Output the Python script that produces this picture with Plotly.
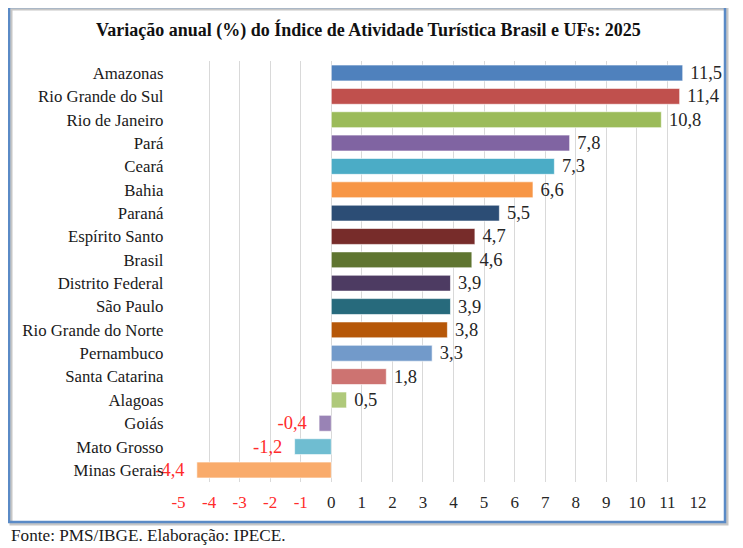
import plotly.graph_objects as go

OFF = 8  # page body margin
W, H = 743 - OFF, 548 - OFF

categories = ["Amazonas", "Rio Grande do Sul", "Rio de Janeiro", "Pará", "Ceará", "Bahia",
              "Paraná", "Espírito Santo", "Brasil", "Distrito Federal", "São Paulo",
              "Rio Grande do Norte", "Pernambuco", "Santa Catarina", "Alagoas", "Goiás",
              "Mato Grosso", "Minas Gerais"]
values = [11.5, 11.4, 10.8, 7.8, 7.3, 6.6, 5.5, 4.7, 4.6, 3.9, 3.9, 3.8, 3.3, 1.8, 0.5, -0.4, -1.2, -4.4]
bar_colors = ["#4F81BD", "#C0504D", "#9BBB59", "#8064A2", "#4BACC6", "#F79646",
              "#2C4D75", "#772C2A", "#5F7530", "#4D3B62", "#276A7C", "#B65708",
              "#729ACA", "#CD7371", "#AFC97A", "#9983B5", "#6FBDD1", "#F9AB6B"]
tick_vals = list(range(-5, 13))

title = "Variação anual (%) do Índice de Atividade Turística Brasil e UFs: 2025"
source = "Fonte: PMS/IBGE. Elaboração: IPECE."

FONT = "'Liberation Serif', 'DejaVu Serif', 'Times New Roman', Times, serif"
NEG = "#FF2B2B"
POS = "#262626"
NB = "\u00a0"

labels = []
for v in values:
    s = f"{v:.1f}".replace(".", ",")
    labels.append(s + NB * 2 if v < 0 else NB + s)
label_colors = [NEG if v < 0 else POS for v in values]
tick_text = [f'<span style="color:{NEG if t < 0 else POS}">{t}</span>' for t in tick_vals]

fig = go.Figure(go.Bar(
    x=values, y=categories, orientation="h",
    marker=dict(color=bar_colors, line=dict(color="rgba(255,255,255,0.6)", width=1)),
    text=labels, textposition="outside", cliponaxis=False, constraintext="none",
    textfont=dict(family=FONT, size=18.5, color=label_colors),
    width=0.68,
))

def px_x(p):
    return (p - OFF) / W

def px_y(p):
    return 1 - (p - OFF) / H

fig.update_layout(
    width=W, height=H,
    margin=dict(l=0, r=0, t=0, b=0),
    paper_bgcolor="white", plot_bgcolor="white",
    showlegend=False,
    font=dict(family=FONT, size=16, color=POS),
    xaxis=dict(
        domain=[px_x(178.5), px_x(698)], range=[-5, 12],
        tickvals=tick_vals, ticktext=tick_text,
        showgrid=True, gridcolor="#D9D9D9", gridwidth=1,
        zeroline=True, zerolinecolor="#D9D9D9", zerolinewidth=1,
        showline=False, ticks="", ticklabelstandoff=8,
        tickfont=dict(family=FONT, size=17),
        automargin=False, fixedrange=True,
    ),
    yaxis=dict(
        domain=[px_y(481.7), px_y(61.3)],
        categoryorder="array", categoryarray=categories, autorange="reversed",
        showgrid=False, zeroline=False, showline=False, ticks="",
        ticklabelstandoff=14,
        tickfont=dict(family=FONT, size=16.8, color="#1A1A1A"),
        automargin=False, fixedrange=True,
    ),
    bargap=0.3,
    shapes=[
        dict(type="rect", xref="paper", yref="paper",
             x0=px_x(11), x1=px_x(727), y0=px_y(524), y1=px_y(9),
             line=dict(color="rgba(160,160,160,0.6)", width=3), layer="below"),
        dict(type="rect", xref="paper", yref="paper",
             x0=px_x(9), x1=px_x(725), y0=px_y(522), y1=px_y(7),
             line=dict(color="#5A8AC6", width=2.5), layer="below"),
    ],
    annotations=[
        dict(text=f"<b>{title}</b>", xref="paper", yref="paper",
             x=px_x(368.5), y=px_y(30), xanchor="center", yanchor="middle",
             showarrow=False, font=dict(family=FONT, size=18, color="#111111")),
        dict(text=source, xref="paper", yref="paper",
             x=px_x(9), y=px_y(535), xanchor="left", yanchor="middle",
             showarrow=False, font=dict(family=FONT, size=17.2, color="#1A1A1A")),
    ],
)

fig.write_html("out.html")
